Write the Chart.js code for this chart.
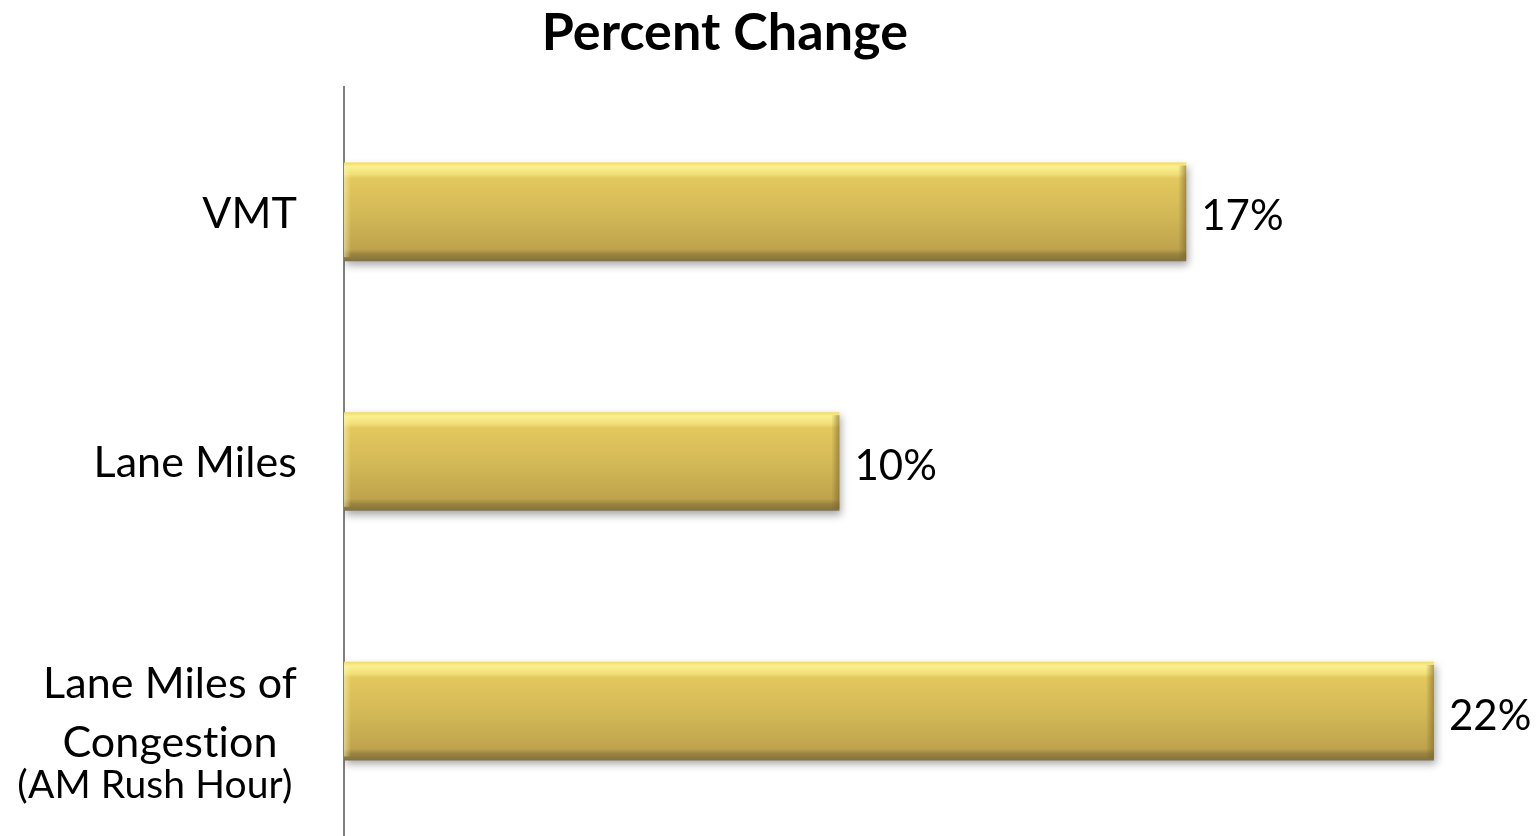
<!DOCTYPE html>
<html>
<head>
<meta charset="utf-8">
<title>Percent Change</title>
<script src="https://cdn.jsdelivr.net/npm/chart.js@4"></script>
<style>
  html, body { margin: 0; padding: 0; background: #fff; }
  #wrap { width: 1539px; height: 836px; position: relative; }
</style>
</head>
<body>
<div id="wrap"><canvas id="chart"></canvas></div>
<script>
// Datos
const chartTitle = 'Percent Change';
const categories = [
  ['VMT'],
  ['Lane Miles'],
  ['Lane Miles of', 'Congestion', '(AM Rush Hour)']
];
const percentValues = [17, 10, 22];
const valueLabels = ['17%', '10%', '22%'];

const FONT = 'Lato, "Open Sans", sans-serif';

// Degradado dorado vertical de cada barra
function goldGradient(context) {
  const chart = context.chart;
  const yScale = chart.scales.y;
  if (!yScale || context.dataIndex === undefined) return '#d9bd58';
  const band = (yScale.bottom - yScale.top) / categories.length;
  const half = band * 0.395 / 2;
  const cy = yScale.getPixelForValue(context.dataIndex);
  if (!isFinite(cy) || !isFinite(half) || half <= 0) return '#d9bd58';
  const g = chart.ctx.createLinearGradient(0, cy - half, 0, cy + half);
  g.addColorStop(0, '#efd96c');
  g.addColorStop(0.04, '#fbf08e');
  g.addColorStop(0.12, '#f0df7a');
  g.addColorStop(0.16, '#e3c85e');
  g.addColorStop(0.55, '#d2b756');
  g.addColorStop(0.88, '#bea34c');
  g.addColorStop(0.93, '#9a843f');
  g.addColorStop(1, '#85713a');
  return g;
}

// Sombra bajo las barras
const barShadow = {
  id: 'barShadow',
  beforeDatasetDraw(chart) {
    const ctx = chart.ctx;
    ctx.save();
    ctx.shadowColor = 'rgba(0,0,0,0.35)';
    ctx.shadowBlur = 8;
    ctx.shadowOffsetX = 2;
    ctx.shadowOffsetY = 4;
  },
  afterDatasetDraw(chart) {
    chart.ctx.restore();
  }
};

// Bisel lateral de las barras y etiquetas de valor
const barDecor = {
  id: 'barDecor',
  afterDatasetsDraw(chart) {
    const ctx = chart.ctx;
    const meta = chart.getDatasetMeta(0);
    meta.data.forEach((bar, i) => {
      const top = bar.y - bar.height / 2;
      const left = Math.min(bar.base, bar.x);
      const right = Math.max(bar.base, bar.x);
      ctx.save();
      // borde izquierdo claro
      let g = ctx.createLinearGradient(left, 0, left + 7, 0);
      g.addColorStop(0, 'rgba(255,245,170,0.55)');
      g.addColorStop(1, 'rgba(255,245,170,0)');
      ctx.fillStyle = g;
      ctx.fillRect(left, top + 4, 7, bar.height - 8);
      // borde derecho oscuro
      g = ctx.createLinearGradient(right - 8, 0, right, 0);
      g.addColorStop(0, 'rgba(120,100,40,0)');
      g.addColorStop(1, 'rgba(120,100,40,0.6)');
      ctx.fillStyle = g;
      ctx.fillRect(right - 8, top + 3, 8, bar.height - 5);
      ctx.restore();

      ctx.save();
      ctx.fillStyle = '#000';
      ctx.font = '42px ' + FONT;
      ctx.textAlign = 'left';
      ctx.textBaseline = 'middle';
      ctx.fillText(valueLabels[i], right + 15, bar.y + 5);
      ctx.restore();
    });
  }
};

// Título y categorías centradas en varias líneas
const textLayer = {
  id: 'textLayer',
  afterDraw(chart) {
    const ctx = chart.ctx;
    const yScale = chart.scales.y;
    ctx.save();
    ctx.fillStyle = '#000';
    ctx.letterSpacing = '0.1px'; // evita la ligadura "ti" de Lato
    ctx.textBaseline = 'middle';
    ctx.textAlign = 'center';
    ctx.font = 'bold 52px ' + FONT;
    ctx.fillText(chartTitle, chart.width * 0.471, 33);

    categories.forEach((lines, i) => {
      const cy = yScale.getPixelForValue(i);
      if (lines.length === 1) {
        ctx.textAlign = 'right';
        ctx.font = '43px ' + FONT;
        ctx.fillText(lines[0], 297, cy + 2);
      } else {
        ctx.textAlign = 'center';
        ctx.font = '43px ' + FONT;
        ctx.fillText(lines[0], 170, cy - 27);
        ctx.fillText(lines[1], 170, cy + 32);
        ctx.font = '39px ' + FONT;
        ctx.fillText(lines[2], 155, cy + 74);
      }
    });
    ctx.restore();
  }
};

const chart = new Chart(document.getElementById('chart'), {
  type: 'bar',
  data: {
    labels: categories,
    datasets: [{
      data: percentValues,
      backgroundColor: goldGradient,
      borderWidth: 0,
      categoryPercentage: 1,
      barPercentage: 0.395
    }]
  },
  options: {
    indexAxis: 'y',
    responsive: true,
    maintainAspectRatio: false,
    animation: false,
    layout: { padding: { top: 87, right: 6, bottom: 0, left: 0 } },
    scales: {
      x: { display: false, min: 0, max: 24 },
      y: {
        grid: { display: false, drawTicks: false },
        border: { display: true, color: '#808080', width: 2 },
        ticks: { display: false },
        afterFit(scale) { scale.width = 344; }
      }
    },
    plugins: {
      legend: { display: false },
      title: { display: false },
      tooltip: { enabled: false }
    }
  },
  plugins: [barShadow, barDecor, textLayer]
});
</script>
</body>
</html>
